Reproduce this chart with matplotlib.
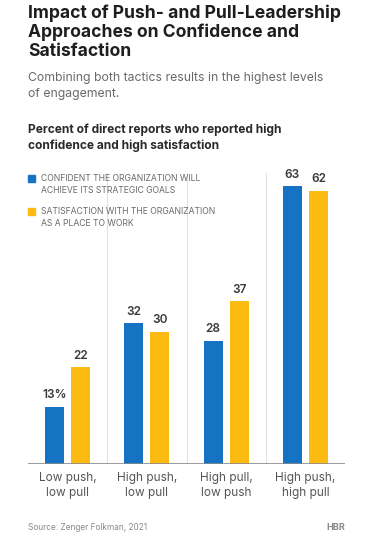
import matplotlib
matplotlib.use("Agg")
import matplotlib.pyplot as plt
import numpy as np

plt.rcParams["font.family"] = ["Inter", "DejaVu Sans"]

categories = ["Low push,\nlow pull", "High push,\nlow pull", "High pull,\nlow push", "High push,\nhigh pull"]
confident = [13, 32, 28, 63]
satisfied = [22, 30, 37, 62]
conf_labels = ["13%", "32", "28", "63"]
sat_labels = ["22", "30", "37", "62"]
legend_labels = ["CONFIDENT THE ORGANIZATION WILL\nACHIEVE ITS STRATEGIC GOALS",
                 "SATISFACTION WITH THE ORGANIZATION\nAS A PLACE TO WORK"]

BLUE = "#1672C2"
YELLOW = "#FDBA12"
GRAY = "#555555"

W, H = 375, 540
fig = plt.figure(figsize=(W / 100, H / 100), dpi=100)

def fx(px):
    return px / W

def fy(py):
    return 1 - py / H

# axes: x 28..345, y 173..464 (pixels)
ax = fig.add_axes([fx(28), fy(464), fx(345 - 28), (464 - 173) / H])
x = np.arange(len(categories))
bw = 0.24
off = 0.165
ax.bar(x - off, confident, bw, color=BLUE)
ax.bar(x + off, satisfied, bw, color=YELLOW)
for xi, v, lab in zip(x, confident, conf_labels):
    ax.text(xi - off, v + 1.2, lab, ha="center", va="bottom", fontsize=8.5,
            fontweight="semibold", color="#3a3a3a")
for xi, v, lab in zip(x, satisfied, sat_labels):
    ax.text(xi + off, v + 1.2, lab, ha="center", va="bottom", fontsize=8.5,
            fontweight="semibold", color="#3a3a3a")
for sep in x[:-1] + 0.5:
    ax.axvline(sep, color="#e2e2e2", lw=0.8, zorder=0)
ax.axhline(0, color="#8a8a8a", lw=1.2)
ax.set_xlim(-0.5, 3.5)
ax.set_ylim(0, 66)
ax.set_yticks([])
ax.set_xticks(x)
ax.set_xticklabels(categories, fontsize=8.5, color=GRAY, linespacing=1.3)
ax.tick_params(axis="x", length=0, pad=6)
for s in ax.spines.values():
    s.set_visible(False)

# titles
fig.text(fx(28), fy(4), "Impact of Push- and Pull-Leadership\nApproaches on Confidence and\nSatisfaction",
         fontsize=12.6, fontweight="bold", color="#1e1e1e", va="top", ha="left", linespacing=1.15)
fig.text(fx(28), fy(72), "Combining both tactics results in the highest levels\nof engagement.",
         fontsize=8.8, color="#6a6a6a", va="top", ha="left", linespacing=1.45)
fig.text(fx(28), fy(124), "Percent of direct reports who reported high\nconfidence and high satisfaction",
         fontsize=8.6, fontweight="bold", color="#2a2a2a", va="top", ha="left", linespacing=1.3)

# legend
for py, col, lab in [(175, BLUE, legend_labels[0]), (208, YELLOW, legend_labels[1])]:
    fig.patches.append(plt.Rectangle((fx(28), fy(py + 7)), fx(7), 7 / H, color=col,
                                     transform=fig.transFigure, figure=fig))
    fig.text(fx(41), fy(py - 1), lab, fontsize=6.2, color="#6a6a6a", va="top", ha="left",
             linespacing=1.4)

fig.text(fx(28), fy(527), "Source: Zenger Folkman, 2021", fontsize=6, color="#8a8a8a",
         va="center", ha="left")
fig.text(fx(345), fy(527), "HBR", fontsize=6.5, fontweight="bold", color="#8a8a8a",
         va="center", ha="right")

fig.savefig("out.png", dpi=100)
